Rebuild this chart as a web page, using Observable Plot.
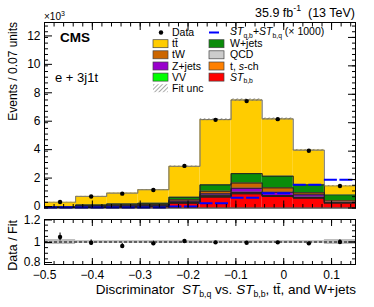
<!DOCTYPE html>
<html><head><meta charset="utf-8">
<script src="https://cdn.jsdelivr.net/npm/d3@7"></script>
<script src="https://cdn.jsdelivr.net/npm/@observablehq/plot@0.6"></script>
<style>
body{margin:0;background:#fff;}
#c{position:relative;width:374px;height:307px;font-family:"Liberation Sans",Arial,Helvetica,sans-serif;overflow:hidden;}
#c svg{position:absolute;left:0;}
#c text{white-space:pre;}
</style></head><body><div id="c"></div>
<script>
// ---- data (thousands of events per bin) ----
const binEdges = [-0.5,-0.435,-0.37,-0.305,-0.24,-0.175,-0.11,-0.045,0.02,0.085,0.15];
const stBB  = [0.03,0.05,0.08,0.10,0.34,0.76,1.00,0.81,0.69,0.34];
const tSch  = [0.005,0.01,0.01,0.01,0.03,0.06,0.05,0.03,0.03,0.02];
const vv    = [0.003,0.005,0.005,0.006,0.01,0.03,0.03,0.02,0.02,0.01];
const qcd   = [0.005,0.01,0.01,0.01,0.02,0.05,0.03,0.02,0.02,0.01];
const zJets = [0.02,0.04,0.05,0.06,0.08,0.10,0.28,0.23,0.17,0.04];
const tW    = [0.02,0.05,0.06,0.07,0.10,0.18,0.37,0.31,0.14,0.10];
const wJets = [0.02,0.05,0.07,0.08,0.18,0.45,0.66,0.82,0.56,0.40];
const ttbar = [0.30,0.60,0.76,0.95,2.17,4.59,5.18,4.03,2.44,0.63];
const fitUnc = [0.01,0.01,0.013,0.015,0.035,0.075,0.09,0.075,0.05,0.035];
const signal = [0.03,0.03,0.03,0.04,0.10,0.34,0.72,1.04,1.63,1.98];
const dataVals = [0.42,0.81,1.01,1.27,2.96,6.20,7.52,6.25,4.03,1.55];
const ratioVals = [1.045,0.994,0.965,0.988,1.009,0.997,0.994,0.997,0.988,1.0];
const ratioErr  = [0.035,0.025,0.022,0.02,0.013,0.009,0.008,0.009,0.011,0.02];
const ratioUnc  = [0.022,0.012,0.012,0.012,0.012,0.012,0.012,0.012,0.012,0.022];
const yTicks = [0,2,4,6,8,10,12];
const xTicks = [-0.5,-0.4,-0.3,-0.2,-0.1,0,0.1];
const rTicksLow = [0.8];
const rTicksHigh = [1,1.2];

// ---- styles ----
const comps = [
  ["stbb", stBB], ["tsch", tSch], ["vv", vv], ["qcd", qcd],
  ["zjets", zJets], ["tw", tW], ["wjets", wJets], ["ttbar", ttbar]
];
const fillOf = {stbb:"#ff0000", tsch:"#ff8000", vv:"#00ff00", qcd:"#cccccc",
  zjets:"#9900cc", tw:"#cc6600", wjets:"#0a8c0a", ttbar:"#ffcc00"};
const edgeOf = k => k === "ttbar" ? "#777" : "#222";

const nb = binEdges.length - 1;
const bins = d3.range(nb).map(i => ({i, lo: binEdges[i], hi: binEdges[i+1], c: (binEdges[i]+binEdges[i+1])/2}));
const rows = comps.flatMap(([k, arr]) => bins.map(b => ({comp: k, lo: b.lo, hi: b.hi, value: arr[b.i]})));
const totals = bins.map(b => d3.sum(comps, ([, arr]) => arr[b.i]));
const band = bins.map(b => ({lo: b.lo, hi: b.hi, y1: totals[b.i] - fitUnc[b.i], y2: totals[b.i] + fitUnc[b.i]}));
const sig = bins.map(b => ({lo: b.lo, hi: b.hi, v: signal[b.i]}));
const pts = bins.map(b => ({c: b.c, v: dataVals[b.i]}));
const rpts = bins.map(b => ({c: b.c, lo: b.lo, hi: b.hi, r: ratioVals[b.i], e: ratioErr[b.i], u: ratioUnc[b.i]}));

const font = '"Liberation Sans", Arial, Helvetica, sans-serif';
const minus = d => String(d).replace("-", "\u2212");
const blank = () => "";
const xMinor = d3.range(-50, 16, 2).map(v => v/100);
const yMinor = d3.range(0, 33).map(v => v*0.4);
const rMinor = d3.range(16, 25).map(v => v*0.05);
const rAll = rTicksLow.concat(rTicksHigh);

const main = Plot.plot({
  width: 374, height: 215,
  marginLeft: 44, marginRight: 19, marginTop: 22, marginBottom: 7.5,
  x: {domain: [-0.5, 0.15]},
  y: {domain: [0, 13.05]},
  color: {type: "identity"},
  style: {fontFamily: font, fontSize: "12px", color: "black", background: "transparent"},
  marks: [
    Plot.rectY(rows, Plot.stackY({x1: "lo", x2: "hi", y: "value", z: "comp", fill: d => fillOf[d.comp]})),
    Plot.lineY(rows, Plot.stackY2({x: "lo", y: "value", z: "comp", stroke: d => edgeOf(d.comp), strokeWidth: 0.7, curve: "step-after"})),
    Plot.lineY(rows, Plot.stackY2({x: "hi", y: "value", z: "comp", stroke: d => edgeOf(d.comp), curve: "step-before", strokeWidth: 0.7})),
    Plot.rect(band, {x1: "lo", x2: "hi", y1: "y1", y2: "y2", fill: "url(#hatch)"}),
    Plot.ruleY(sig, {x1: "lo", x2: "hi", y: "v", stroke: "#0000ff", strokeWidth: 2, strokeDasharray: "13,2.5"}),
    Plot.dot(pts, {x: "c", y: "v", r: 2.2, fill: "black", stroke: null}),
    Plot.frame({stroke: "black", strokeWidth: 1}),
    Plot.axisY(yTicks, {anchor: "left", tickSize: -8, tickPadding: 12, tickFormat: d => String(d), fontSize: 12, dy: -1.5, label: null}),
    Plot.axisY(yMinor, {anchor: "left", tickSize: -4, tickFormat: blank, label: null}),
    Plot.axisY(yTicks, {anchor: "right", tickSize: -8, tickFormat: blank, label: null}),
    Plot.axisY(yMinor, {anchor: "right", tickSize: -4, tickFormat: blank, label: null}),
    Plot.axisX(xTicks, {anchor: "bottom", tickSize: -7, tickFormat: blank, label: null}),
    Plot.axisX(xMinor, {anchor: "bottom", tickSize: -3.5, tickFormat: blank, label: null}),
    Plot.axisX(xTicks, {anchor: "top", tickSize: -7, tickFormat: blank, label: null}),
    Plot.axisX(xMinor, {anchor: "top", tickSize: -3.5, tickFormat: blank, label: null})
  ]
});
main.style.top = "0px";

const ratio = Plot.plot({
  width: 374, height: 100,
  marginLeft: 44, marginRight: 19, marginTop: 12, marginBottom: 43,
  x: {domain: [-0.5, 0.15]},
  y: {domain: [0.8, 1.2]},
  style: {fontFamily: font, fontSize: "12px", color: "black", background: "transparent"},
  marks: [
    Plot.rect(rpts, {x1: "lo", x2: "hi", y1: d => 1 - d.u, y2: d => 1 + d.u, fill: "#bdbdbd"}),
    Plot.ruleY([1], {stroke: "black", strokeWidth: 1, strokeDasharray: "3,2"}),
    Plot.ruleX(rpts, {x: "c", y1: d => d.r - d.e, y2: d => d.r + d.e, stroke: "black", strokeWidth: 1}),
    Plot.dot(rpts, {x: "c", y: "r", r: 2.2, fill: "black", stroke: null}),
    Plot.frame({stroke: "black", strokeWidth: 1}),
    Plot.axisY(rTicksHigh, {anchor: "left", tickSize: -8, tickPadding: 12, tickFormat: d => String(d), fontSize: 12, dy: 0.5, label: null}),
    Plot.axisY(rTicksLow, {anchor: "left", tickSize: -8, tickPadding: 12, tickFormat: d => String(d), fontSize: 12, dy: -2, label: null}),
    Plot.axisY(rMinor, {anchor: "left", tickSize: -4, tickFormat: blank, label: null}),
    Plot.axisY(rAll, {anchor: "right", tickSize: -8, tickFormat: blank, label: null}),
    Plot.axisY(rMinor, {anchor: "right", tickSize: -4, tickFormat: blank, label: null}),
    Plot.axisX(xTicks, {anchor: "bottom", tickSize: -6, tickPadding: 11.5, tickFormat: minus, fontSize: 12, label: null}),
    Plot.axisX(xMinor, {anchor: "bottom", tickSize: -3, tickFormat: blank, label: null}),
    Plot.axisX(xTicks, {anchor: "top", tickSize: -6, tickFormat: blank, label: null}),
    Plot.axisX(xMinor, {anchor: "top", tickSize: -3, tickFormat: blank, label: null})
  ]
});
ratio.style.top = "207px";

const host = document.getElementById("c");
host.appendChild(main);
host.appendChild(ratio);

// ---- overlay: texts & legend ----
const ov = d3.select(host).append("svg").attr("width", 374).attr("height", 307)
  .style("top", "0px").style("font-family", font);
const defs = ov.append("defs");
const pat = defs.append("pattern").attr("id", "hatch").attr("patternUnits", "userSpaceOnUse")
  .attr("width", 3).attr("height", 3).attr("patternTransform", "rotate(45)");
pat.append("line").attr("x1", 0).attr("y1", 0).attr("x2", 0).attr("y2", 3).attr("stroke", "#555").attr("stroke-width", 1);

function rich(x, y, parts, {size = 12, anchor = "start", rotate = 0, weight = null} = {}) {
  const t = ov.append("text").attr("x", x).attr("y", y).attr("font-size", size).attr("text-anchor", anchor).attr("fill", "black");
  if (rotate) t.attr("transform", `rotate(${rotate},${x},${y})`);
  if (weight) t.attr("font-weight", weight);
  let shift = 0;
  for (const p of parts) {
    const [s, k] = typeof p === "string" ? [p, ""] : p;
    const ts = t.append("tspan").text(s);
    let target = 0;
    if (k.includes("sub")) { target = size * 0.25; ts.attr("font-size", size * 0.65); }
    if (k.includes("sup")) { target = -size * 0.45; ts.attr("font-size", size * 0.7); }
    if (k.includes("it")) ts.attr("font-style", "italic");
    if (target !== shift) { ts.attr("dy", target - shift); shift = target; }
  }
  return t;
}

rich(44, 20, ["\u00d710", ["3", "sup"]], {size: 10});
rich(355, 17, ["35.9 fb", ["-1", "sup"], "  (13 TeV)"], {size: 12.5, anchor: "end"});
rich(60, 42, ["CMS"], {size: 13.5, weight: "bold"});
rich(55, 82, ["e + 3j1t"], {size: 13});
rich(17, 22, ["Events / 0.07 units"], {size: 12, anchor: "end", rotate: -90});
rich(17, 220, ["Data / Fit"], {size: 12.5, anchor: "end", rotate: -90});
rich(356, 293.5, ["Discriminator  ", ["ST", "it"], ["b,q", "sub"], " vs. ", ["ST", "it"], ["b,b", "sub"], ", tt\u0304, and W+jets"], {size: 13.5, anchor: "end"});

// legend
const rowY = [32.5, 43.7, 54.8, 66, 77.1, 88.2];
const lsize = 10.5;
function box(x, y, fill, hatch) {
  ov.append("rect").attr("x", x).attr("y", y - 4).attr("width", 15).attr("height", 8)
    .attr("fill", hatch ? "url(#hatch)" : fill).attr("stroke", hatch ? "none" : "#444").attr("stroke-width", 0.7);
}
ov.append("circle").attr("cx", 161).attr("cy", rowY[0]).attr("r", 2.2).attr("fill", "black");
rich(172, rowY[0] + 3.5, ["Data"], {size: lsize});
box(153, rowY[1], fillOf.ttbar); rich(172, rowY[1] + 3.5, ["tt\u0304"], {size: lsize});
box(153, rowY[2], fillOf.tw); rich(172, rowY[2] + 3.5, ["tW"], {size: lsize});
box(153, rowY[3], fillOf.zjets); rich(172, rowY[3] + 3.5, ["Z+jets"], {size: lsize});
box(153, rowY[4], fillOf.vv); rich(172, rowY[4] + 3.5, ["VV"], {size: lsize});
box(153, rowY[5], null, true); rich(172, rowY[5] + 3.5, ["Fit unc"], {size: lsize});

ov.append("line").attr("x1", 209).attr("x2", 219).attr("y1", rowY[0]).attr("y2", rowY[0]).attr("stroke", "#0000ff").attr("stroke-width", 2);
rich(230, rowY[0] + 2.5, [["ST", "it"], ["q,b", "sub"], "+", ["ST", "it"], ["b,q", "sub"], " (\u00d7 1000)"], {size: lsize});
box(209, rowY[1], fillOf.wjets); rich(230, rowY[1] + 3.5, ["W+jets"], {size: lsize});
box(209, rowY[2], fillOf.qcd); rich(230, rowY[2] + 3.5, ["QCD"], {size: lsize});
box(209, rowY[3], fillOf.tsch); rich(230, rowY[3] + 3.5, ["t, ", ["s", "it"], "-ch"], {size: lsize});
box(209, rowY[4], fillOf.stbb); rich(230, rowY[4] + 3.5, [["ST", "it"], ["b,b", "sub"]], {size: lsize});
</script></body></html>
